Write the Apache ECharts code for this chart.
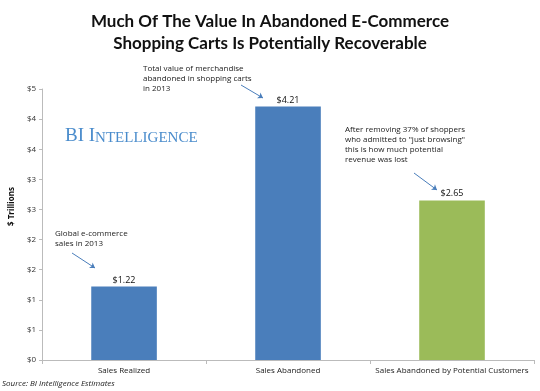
<!DOCTYPE html>
<html>
<head>
<meta charset="utf-8">
<script src="https://cdn.jsdelivr.net/npm/echarts@6/dist/echarts.min.js"></script>
<style>html,body{margin:0;padding:0;background:#fff}#c{width:540px;height:391px}</style>
</head>
<body>
<div id="c"></div>
<script>
var categories = ['Sales Realized', 'Sales Abandoned', 'Sales Abandoned by Potential Customers'];
var values = [1.22, 4.21, 2.65];
var valueLabels = ['$1.22', '$4.21', '$2.65'];
var barColors = ['#4a7ebb', '#4a7ebb', '#9bbb59'];
var yMin = 0, yMax = 4.5, yStep = 0.5;

var chart = echarts.init(document.getElementById('c'), null, {renderer: 'canvas'});
var noteStyle = {fill: '#222', font: '8px "Open Sans", sans-serif', lineHeight: 10};
chart.setOption({
  animation: false,
  backgroundColor: '#fff',
  title: {
    text: 'Much Of The Value In Abandoned E-Commerce\nShopping Carts Is Potentially Recoverable',
    left: 'center', top: 6,
    textStyle: {fontFamily: 'Lato', fontWeight: 'bold', fontSize: 17, lineHeight: 22, color: '#111'}
  },
  grid: {left: 35, right: 6, top: 89, bottom: 31},
  xAxis: {
    type: 'category', data: categories,
    axisLine: {lineStyle: {color: '#bbb'}},
    axisTick: {show: true, alignWithLabel: false, length: 4, lineStyle: {color: '#bbb'}},
    axisLabel: {interval: 0, color: '#222', fontSize: 8, fontFamily: 'Open Sans', margin: 7}
  },
  yAxis: {
    type: 'value', min: yMin, max: yMax, interval: yStep,
    name: '$ Trillions', nameLocation: 'middle', nameGap: 21, nameRotate: 90,
    nameTextStyle: {fontSize: 8, fontWeight: 'bold', fontFamily: 'Open Sans', color: '#111', padding: [0, 0, 0, 36]},
    axisLine: {show: true, lineStyle: {color: '#bbb'}},
    axisTick: {show: true, length: 3, lineStyle: {color: '#bbb'}},
    splitLine: {show: false},
    axisLabel: {color: '#333', fontSize: 8, fontFamily: 'Open Sans', margin: 6,
      formatter: function (v) { return '$' + Math.round(v); }}
  },
  series: [{
    type: 'bar', barWidth: '40%',
    data: values.map(function (v, i) { return {value: v, itemStyle: {color: barColors[i]}}; }),
    label: {show: true, position: 'top', distance: 2, fontSize: 9, fontFamily: 'Open Sans', color: '#111',
      formatter: function (p) { return valueLabels[p.dataIndex]; }},
    markLine: {
      silent: true, symbol: ['none', 'arrow'], symbolSize: 5,
      lineStyle: {color: '#4a7ebb', width: 1, type: 'solid'},
      label: {show: false},
      data: [
        [{x: 72, y: 253}, {x: 95, y: 268}],
        [{x: 241, y: 85}, {x: 263, y: 98}],
        [{x: 414, y: 173}, {x: 437, y: 190}]
      ]
    }
  }],
  graphic: [
    {type: 'text', left: 65, top: 127, style: {
      text: '{a|BI I}{b|NTELLIGENCE}',
      rich: {a: {fontFamily: 'Liberation Serif', fontSize: 19, fill: '#4a8ccc', verticalAlign: 'bottom'},
             b: {fontFamily: 'Liberation Serif', fontSize: 15, fill: '#4a8ccc', verticalAlign: 'bottom'}}
    }},
    {type: 'text', left: 55, top: 229, style: Object.assign({text: 'Global e-commerce\nsales in 2013'}, noteStyle)},
    {type: 'text', left: 143, top: 64, style: Object.assign({text: 'Total value of merchandise\nabandoned in shopping carts\nin 2013'}, noteStyle)},
    {type: 'text', left: 345, top: 125, style: Object.assign({text: 'After removing 37% of shoppers\nwho admitted to "just browsing"\nthis is how much potential\nrevenue was lost'}, noteStyle)},
    {type: 'text', left: 2, top: 380, style: {text: 'Source: BI Intelligence Estimates', fill: '#222', font: 'italic 8px "Open Sans", sans-serif'}}
  ]
});
</script>
</body>
</html>
